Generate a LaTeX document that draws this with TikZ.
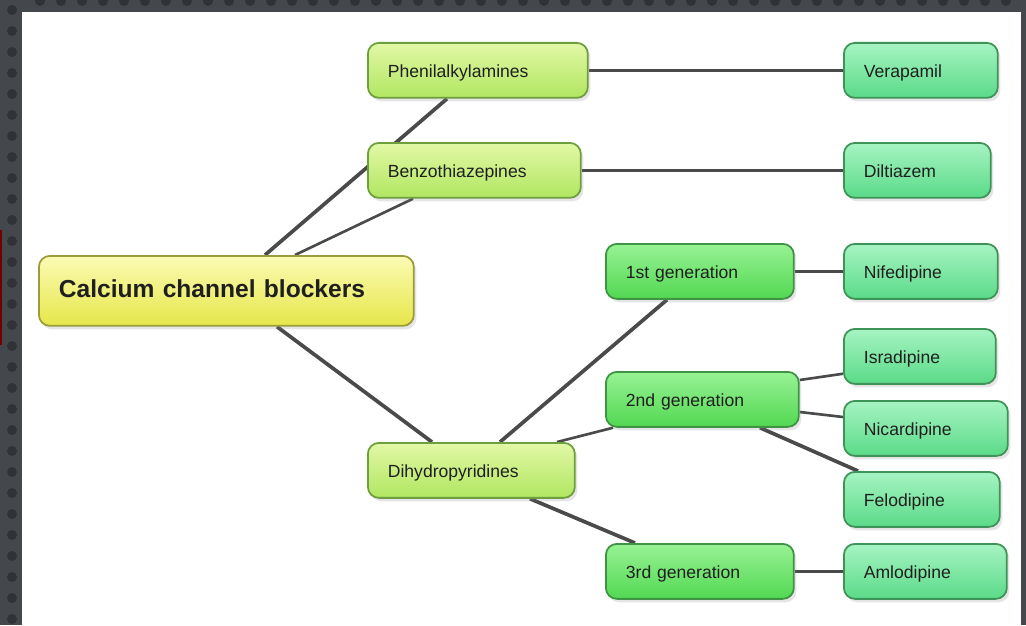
\documentclass[tikz,border=0pt]{standalone}
\usepackage{fontspec}
\setmainfont{Liberation Sans}
\usetikzlibrary{positioning,calc,backgrounds,shadows}

\definecolor{framebg}{HTML}{44474C}
\definecolor{framedot}{HTML}{303236}
\definecolor{roottop}{HTML}{FBFBB4}
\definecolor{rootbot}{HTML}{E6E64A}
\definecolor{rootline}{HTML}{9C9C3A}
\definecolor{grouptop}{HTML}{E2F8A6}
\definecolor{groupbot}{HTML}{B0E660}
\definecolor{groupline}{HTML}{6E9E3E}
\definecolor{gentop}{HTML}{98F294}
\definecolor{genbot}{HTML}{52D852}
\definecolor{genline}{HTML}{3E9444}
\definecolor{drugtop}{HTML}{A6F4C2}
\definecolor{drugbot}{HTML}{5ADA88}
\definecolor{drugline}{HTML}{3E9458}
\definecolor{linkgray}{HTML}{4A4A4A}

\begin{document}
\begin{tikzpicture}[
        x=0.02cm, y=-0.02cm,
        font=\fontsize{10}{12}\selectfont,
        box/.style={rectangle, rounded corners=2.2mm, line width=1pt, anchor=north west,
                    align=left, inner xsep=4mm, minimum height=11mm, text=black!88,
                    text height=1em, text depth=0.2em,
                    drop shadow={opacity=0.2, shadow xshift=0.5mm, shadow yshift=-0.7mm}},
        root/.style={box, draw=rootline, top color=roottop, bottom color=rootbot,
                     minimum height=14mm, font=\fontsize{14}{16}\selectfont\bfseries},
        group/.style={box, draw=groupline, top color=grouptop, bottom color=groupbot},
        gen/.style={box, draw=genline, top color=gentop, bottom color=genbot},
        drug/.style={box, draw=drugline, top color=drugtop, bottom color=drugbot},
        link/.style={line width=1.5pt, draw=linkgray},
        heavy link/.style={link, line width=2.1pt},
    ]
        \useasboundingbox (0,0) rectangle (1026,625);
        \begin{scope}[on background layer]
            \fill[framebg] (0,0) rectangle (1026,625);
            \foreach \y in {10,31,...,625} \fill[framedot] (12,\y) circle (5);
            \foreach \x in {40,61,...,1026} \fill[framedot] (\x,1) circle (5);
            \fill[white] (22,12) rectangle (1021,625);
            \fill[red!45!black] (0,230) rectangle (2,345);
        \end{scope}

        \node[root, text width=6.7cm] (ccb) at (38,255) {Calcium channel blockers};

        \node[group, text width=3.6cm]  (phen) at (367,42)  {Phenilalkylamines};
        \node[group, text width=3.46cm] (benz) at (367,142) {Benzothiazepines};
        \node[group, text width=3.34cm] (dhp)  at (367,442) {Dihydropyridines};

        \node[gen, text width=2.96cm] (gen1) at (605,243) {1st generation};
        \node[gen, text width=3.06cm] (gen2) at (605,371) {2nd generation};
        \node[gen, text width=2.96cm] (gen3) at (605,543) {3rd generation};

        \node[drug, text width=2.28cm] (vera) at (843,42)  {Verapamil};
        \node[drug, text width=2.14cm] (dilt) at (843,142) {Diltiazem};
        \node[drug, text width=2.28cm] (nife) at (843,243) {Nifedipine};
        \node[drug, text width=2.24cm] (isra) at (843,328) {Isradipine};
        \node[drug, text width=2.48cm] (nica) at (843,400) {Nicardipine};
        \node[drug, text width=2.32cm] (felo) at (843,471) {Felodipine};
        \node[drug, text width=2.46cm] (amlo) at (843,543) {Amlodipine};

        % connectors go behind the boxes
        \begin{scope}[on background layer]
            \draw[heavy link] ($(ccb.north west)+(227,0)$) -- ($(phen.south west)+(80,0)$);
            \draw[link] ($(ccb.north west)+(257,0)$) -- ($(benz.south west)+(46,0)$);
            \draw[heavy link] ($(ccb.south west)+(239,0)$) -- ($(dhp.north west)+(65,0)$);
            \draw[heavy link] (phen.east) -- (vera.west);
            \draw[heavy link] (benz.east) -- (dilt.west);
            \draw[heavy link] ($(dhp.north west)+(133,0)$) -- ($(gen1.south west)+(62,0)$);
            \draw[link] ($(dhp.north west)+(190,0)$) -- ($(gen2.south west)+(8,0)$);
            \draw[heavy link] ($(dhp.south west)+(163,0)$) -- ($(gen3.north west)+(30,0)$);
            \draw[heavy link] (gen1.east) -- (nife.west);
            \draw[link] ($(gen2.north east)+(0,9)$) -- ($(isra.south west)+(0,-11)$);
            \draw[link] ($(gen2.north east)+(0,41)$) -- ($(nica.north west)+(0,17)$);
            \draw[heavy link] ($(gen2.south west)+(155,0)$) -- ($(felo.north west)+(15,0)$);
            \draw[heavy link] (gen3.east) -- (amlo.west);
        \end{scope}
\end{tikzpicture}
\end{document}
